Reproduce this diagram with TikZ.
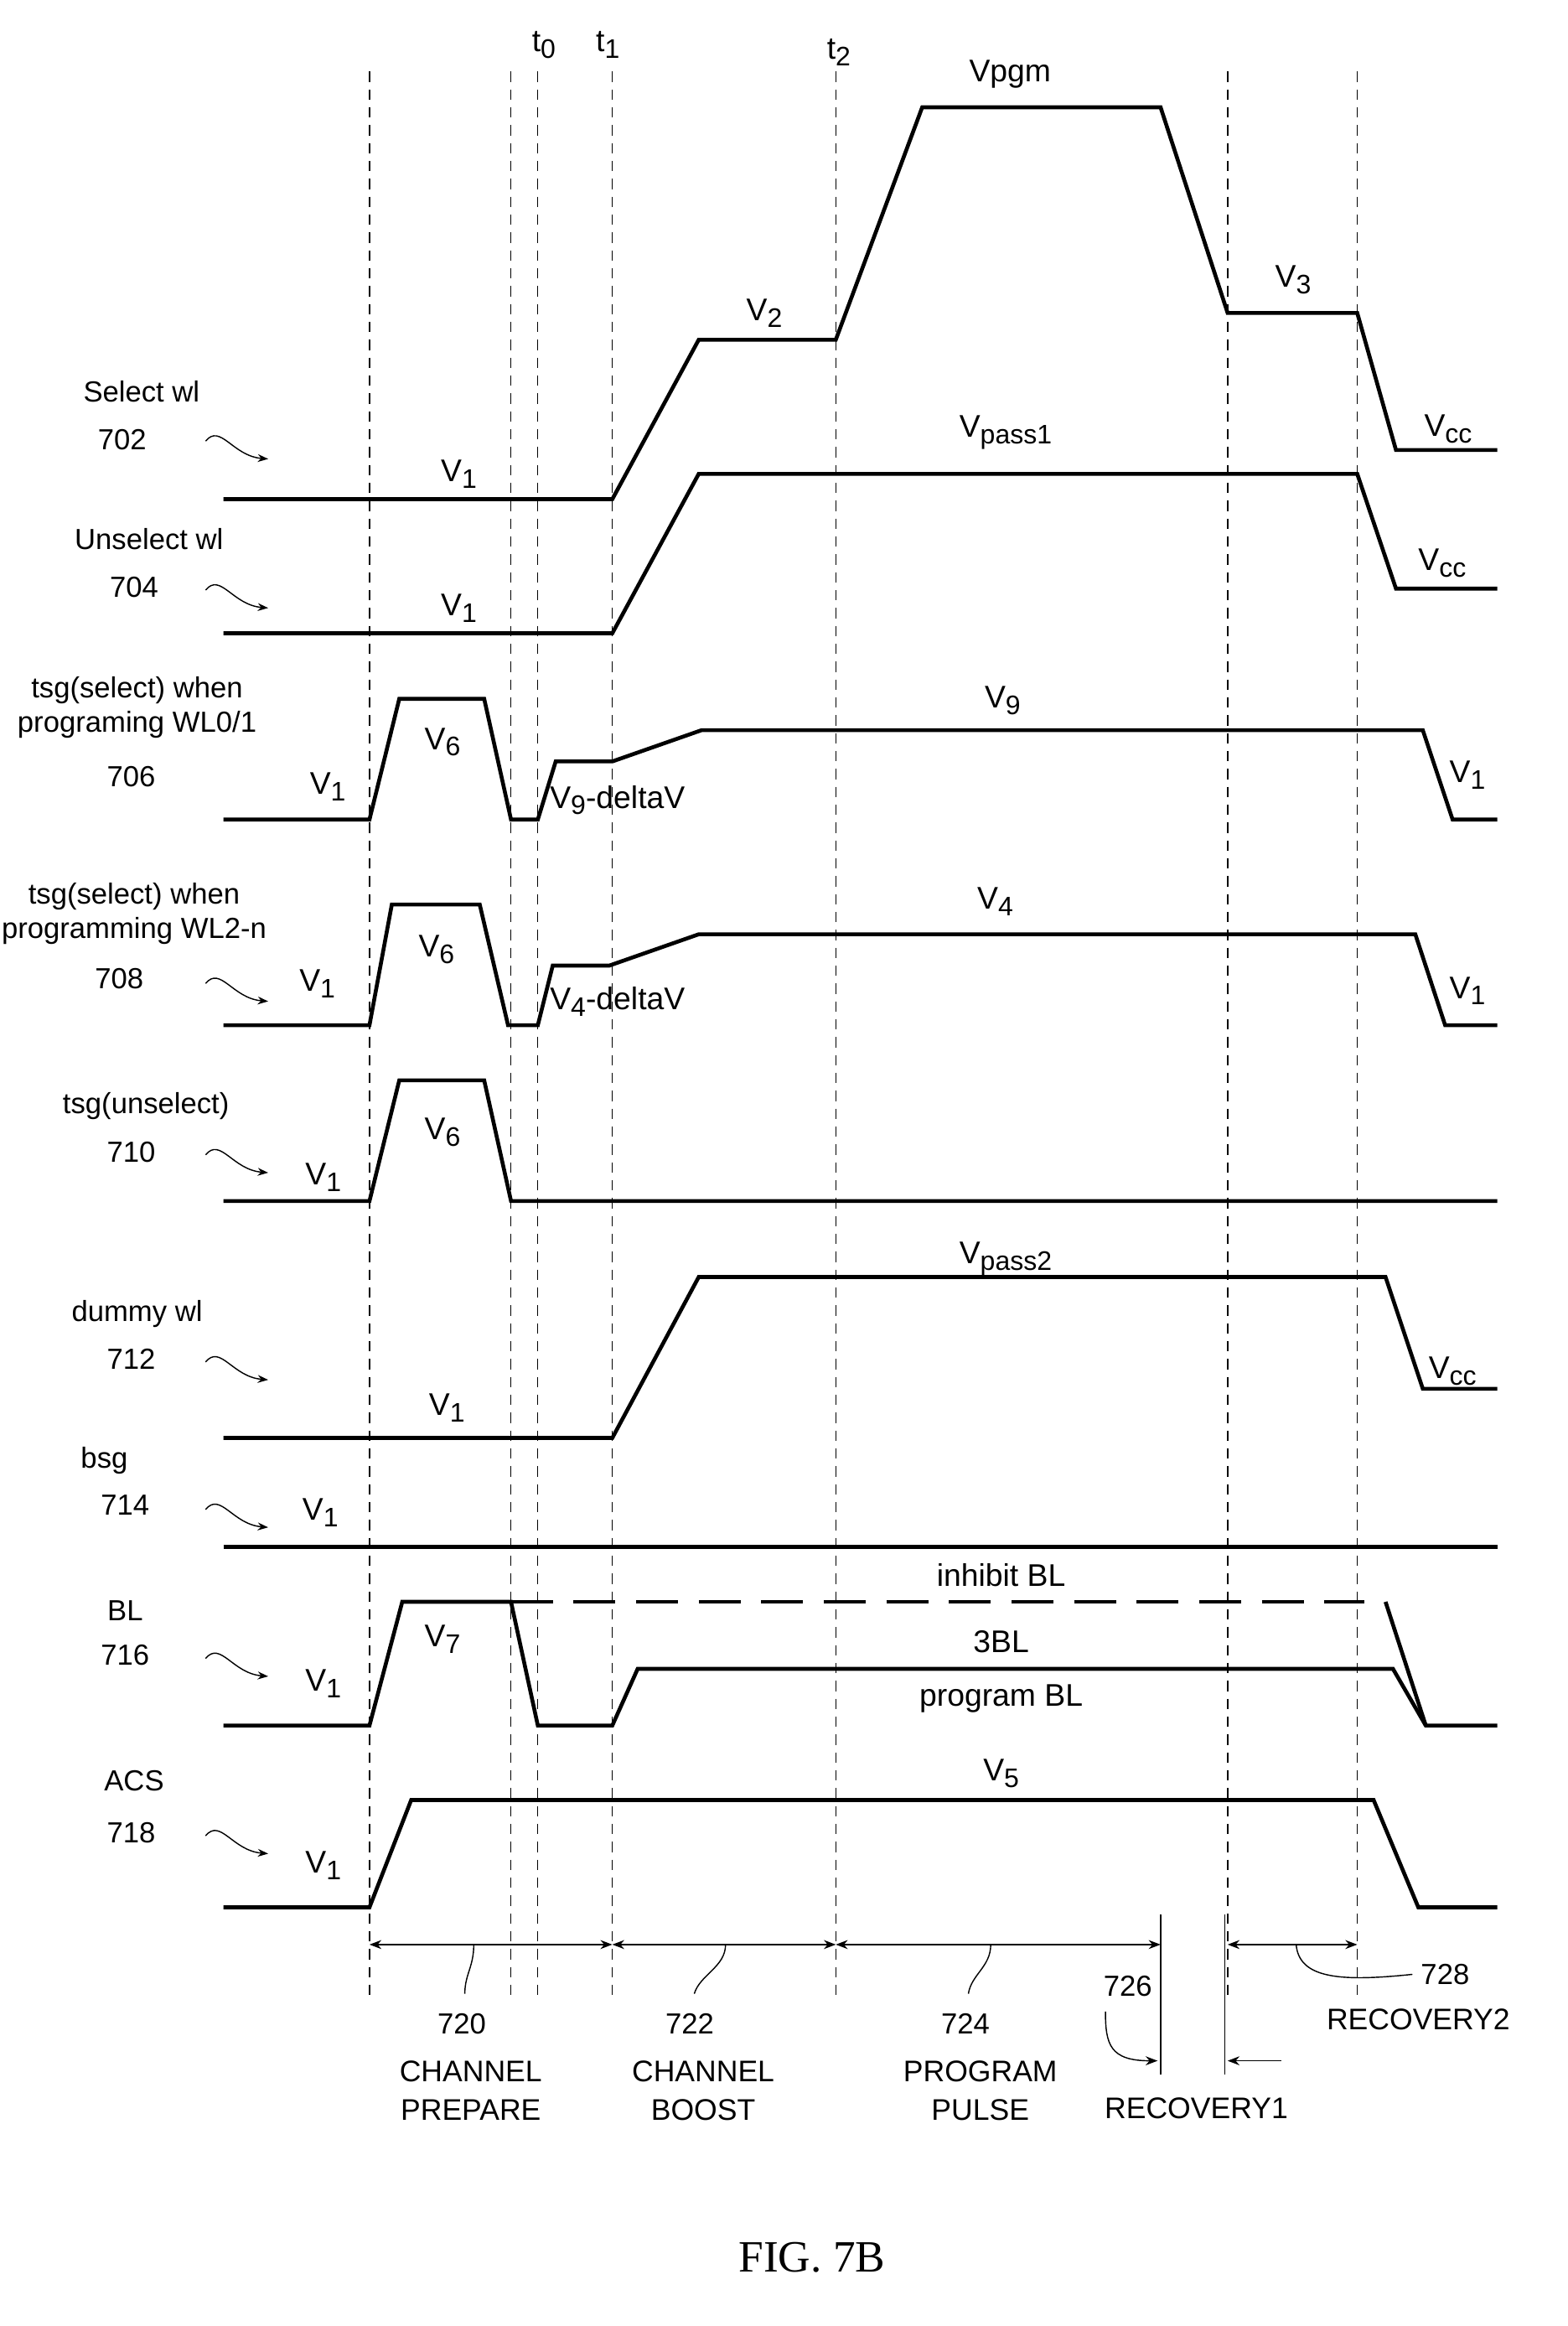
\documentclass[tikz,border=0pt]{standalone}
\usepackage{fontspec}
\setmainfont{Liberation Sans}
\newfontfamily\figfont{Liberation Serif}
\usetikzlibrary{arrows.meta}
\tikzset{
    sig/.style={line width=2.6pt, line join=miter},
    tline/.style={line width=0.8pt, dash pattern=on 7pt off 5pt},
    lbl/.style={font=\fontsize{21}{24}\selectfont, inner sep=1pt},
    tag/.style={font=\fontsize{19.5}{23}\selectfont, align=center, inner sep=1pt},
    capt/.style={font=\fontsize{20}{26}\selectfont, align=center, inner sep=1pt},
    squig/.style={line width=0.8pt, -{Stealth[length=7pt]}},
    spanarr/.style={line width=0.8pt, {Stealth[length=8pt]}-{Stealth[length=8pt]}}
}
\newcommand{\sq}[2]{\draw[squig] (#1,#2) .. controls (#1+10,#2-12) and (#1+18,#2+10) .. (#1+42,#2+12);}
\newcommand{\sub}[1]{\raisebox{-0.4ex}{\fontsize{18}{20}\selectfont #1}}
\begin{document}
\begin{tikzpicture}[x=1pt, y=-1pt]
    \useasboundingbox[fill=white] (0,0) rectangle (1052,1561);
    % time grid
    \foreach \x in {248,343,361,411,561,824,911}
        \draw[tline] (\x,48) -- (\x,1340);
    \node[lbl] (t0) at (365,30) {t\sub{0}};
    \node[lbl] (t1) at (408,30) {t\sub{1}};
    \node[lbl] (t2) at (563,35) {t\sub{2}};

    % Select wl 702
    \draw[sig] (150,335) -- (411,335) -- (469,228) -- (561,228) -- (619,72) -- (779,72) -- (824,210) -- (911,210) -- (937,302) -- (1005,302);
    \node[lbl] at (308,318) {V\sub{1}};
    \node[lbl] at (513,210) {V\sub{2}};
    \node[lbl] at (678,50) {Vpgm};
    \node[lbl] at (868,188) {V\sub{3}};
    \node[lbl] at (972,288) {V\sub{cc}};
    \node[tag] (n702) at (95,263) {Select wl};
    \node[tag] at (82,295) {702};
    \sq{138}{296}

    % Unselect wl 704
    \draw[sig] (150,425) -- (411,425) -- (469,318) -- (911,318) -- (937,395) -- (1005,395);
    \node[lbl] at (308,408) {V\sub{1}};
    \node[lbl] at (675,290) {V\sub{pass1}};
    \node[lbl] at (968,378) {V\sub{cc}};
    \node[tag] (n704) at (100,362) {Unselect wl};
    \node[tag] at (90,394) {704};
    \sq{138}{396}

    % tsg select 706
    \draw[sig] (150,550) -- (248,550) -- (268,469) -- (325,469) -- (343,550) -- (361,550) -- (373,511) -- (411,511) -- (471,490) -- (955,490) -- (975,550) -- (1005,550);
    \node[lbl] at (220,528) {V\sub{1}};
    \node[lbl] at (297,498) {V\sub{6}};
    \node[lbl, anchor=west] at (368,537) {V\sub{9}-deltaV};
    \node[lbl] at (673,470) {V\sub{9}};
    \node[lbl] at (985,520) {V\sub{1}};
    \node[tag] (n706) at (92,475) {tsg(select) when\\programing WL0/1};
    \node[tag] at (88,521) {706};

    % tsg select 708
    \draw[sig] (150,688) -- (248,688) -- (263,607) -- (322,607) -- (341,688) -- (361,688) -- (371,648) -- (409,648) -- (469,627) -- (950,627) -- (970,688) -- (1005,688);
    \node[lbl] at (213,660) {V\sub{1}};
    \node[lbl] at (293,637) {V\sub{6}};
    \node[lbl, anchor=west] at (368,672) {V\sub{4}-deltaV};
    \node[lbl] at (668,605) {V\sub{4}};
    \node[lbl] at (985,665) {V\sub{1}};
    \node[tag] (n708) at (90,613) {tsg(select) when\\programming WL2-n};
    \node[tag] at (80,657) {708};
    \sq{138}{660}

    % tsg unselect 710
    \draw[sig] (150,806) -- (248,806) -- (268,725) -- (325,725) -- (343,806) -- (1005,806);
    \node[lbl] at (217,790) {V\sub{1}};
    \node[lbl] at (297,760) {V\sub{6}};
    \node[tag] (n710) at (98,742) {tsg(unselect)};
    \node[tag] at (88,773) {710};
    \sq{138}{775}

    % dummy wl 712
    \draw[sig] (150,965) -- (411,965) -- (469,857) -- (930,857) -- (955,932) -- (1005,932);
    \node[lbl] at (300,945) {V\sub{1}};
    \node[lbl] at (675,845) {V\sub{pass2}};
    \node[lbl] at (975,920) {V\sub{cc}};
    \node[tag] (n712) at (92,882) {dummy wl};
    \node[tag] at (88,912) {712};
    \sq{138}{914}

    % bsg 714
    \draw[sig] (150,1038) -- (1005,1038);
    \node[lbl] at (215,1015) {V\sub{1}};
    \node[tag] (n714) at (70,980) {bsg};
    \node[tag] at (84,1010) {714};
    \sq{138}{1013}

    % BL 716
    \draw[sig] (150,1158) -- (248,1158) -- (270,1075) -- (343,1075) -- (361,1158) -- (411,1158) -- (428,1120) -- (935,1120) -- (957,1158) -- (1005,1158);
    \draw[sig, dash pattern=on 28pt off 14pt] (343,1075) -- (916,1075);
    \draw[sig] (930,1075) -- (957,1158);
    \node[lbl] at (672,1057) {inhibit BL};
    \node[lbl] at (297,1100) {V\sub{7}};
    \node[lbl] at (672,1102) {3BL};
    \node[lbl] at (672,1140) {program BL};
    \node[lbl] at (217,1130) {V\sub{1}};
    \node[tag] (n716) at (84,1081) {BL};
    \node[tag] at (84,1111) {716};
    \sq{138}{1113}

    % ACS 718
    \draw[sig] (150,1280) -- (248,1280) -- (276,1208) -- (922,1208) -- (952,1280) -- (1005,1280);
    \node[lbl] at (672,1190) {V\sub{5}};
    \node[lbl] at (217,1252) {V\sub{1}};
    \node[tag] (n718) at (90,1195) {ACS};
    \node[tag] at (88,1230) {718};
    \sq{138}{1232}

    % phases
    \coordinate (p0) at (248,1305);
    \coordinate (p1) at (411,1305);
    \coordinate (p2) at (561,1305);
    \coordinate (p3) at (779,1305);
    \coordinate (p4) at (824,1305);
    \coordinate (p5) at (911,1305);
    \draw[spanarr] (p0) -- (p1);
    \draw[spanarr] (p1) -- (p2);
    \draw[spanarr] (p2) -- (p3);
    \draw[spanarr] (p4) -- (p5);
    \draw[line width=0.8pt] (779,1285) -- (779,1392);
    \draw[line width=0.8pt] (822,1285) -- (822,1392);
    \draw[line width=0.8pt] (318,1305) .. controls (318,1320) and (312,1325) .. (312,1338);
    \draw[line width=0.8pt] (487,1305) .. controls (487,1320) and (470,1325) .. (466,1338);
    \draw[line width=0.8pt] (665,1305) .. controls (665,1320) and (652,1325) .. (650,1338);
    \node[tag] (n720) at (310,1358) {720};
    \node[capt] at (316,1403) {CHANNEL\\PREPARE};
    \node[tag] (n722) at (463,1358) {722};
    \node[capt] at (472,1403) {CHANNEL\\BOOST};
    \node[tag] (n724) at (648,1358) {724};
    \node[capt] at (658,1403) {PROGRAM\\PULSE};
    \node[tag] (n726) at (757,1333) {726};
    \draw[line width=0.8pt, -{Stealth[length=8pt]}] (742,1350) .. controls (742,1372) and (745,1383) .. (777,1383);
    \draw[line width=0.8pt, -{Stealth[length=8pt]}] (860,1383) -- (824,1383);
    \node[capt] at (803,1415) {RECOVERY1};
    \node[tag] (n728) at (970,1325) {728};
    \draw[line width=0.8pt] (870,1305) .. controls (872,1328) and (900,1330) .. (948,1325);
    \node[capt] at (952,1355) {RECOVERY2};

    \node[font=\figfont\fontsize{30}{34}\selectfont] (fig) at (545,1515) {FIG. 7B};
\end{tikzpicture}
\end{document}
